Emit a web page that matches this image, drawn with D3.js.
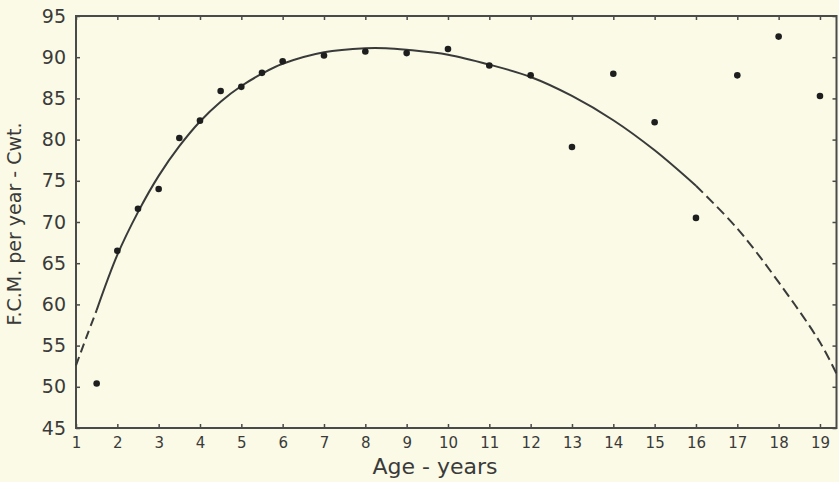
<!DOCTYPE html>
<html>
<head>
<meta charset="utf-8">
<script src="https://cdn.jsdelivr.net/npm/d3@7"></script>
<style>
  body { margin: 0; background: #fafae6; }
  svg { display: block; }
  text { font-family: "DejaVu Sans", sans-serif; fill: #3a3a3a; }
</style>
</head>
<body>
<div id="chart"></div>
<script>
// observed points (age in years, F.C.M. per year in cwt.)
var ages = [1.5, 2, 2.5, 3, 3.5, 4, 4.5, 5, 5.5, 6, 7, 8, 9, 10, 11, 12, 13, 14, 15, 16, 17, 18, 19];
var fcm  = [50.4, 66.5, 71.6, 74.0, 80.2, 82.3, 85.9, 86.4, 88.1, 89.5, 90.2, 90.7, 90.5, 91.0, 89.0, 87.8, 79.1, 88.0, 82.1, 70.5, 87.8, 92.5, 85.3];

// fitted curve
var curveX = [1, 1.25, 1.5, 2, 2.5, 3, 3.5, 4, 4.5, 5, 5.5, 6, 7, 8, 8.5, 9, 10, 11, 12, 13, 14, 15, 16, 17, 18, 19, 19.4];
var curveY = [52.6, 56.0, 59.3, 66.0, 71.2, 75.6, 79.2, 82.2, 84.6, 86.5, 88.0, 89.2, 90.6, 91.1, 91.1, 90.9, 90.3, 89.1, 87.6, 85.3, 82.35, 78.7, 74.4, 69.2, 62.7, 55.4, 51.6];
var solidFrom = 1.5, solidTo = 16;   // outside this range the curve is dashed

var xTicks = d3.range(1, 20);
var yTicks = d3.range(45, 100, 5);

var width = 839, height = 482;
var margin = {top: 16, right: 2.5, bottom: 54, left: 76};

var svg = d3.select("#chart")
  .append("svg")
    .attr("width", width)
    .attr("height", height);

var x = d3.scaleLinear()
    .domain([1, 19.4])
    .range([margin.left, width - margin.right]);

var y = d3.scaleLinear()
    .domain([45, 95])
    .range([height - margin.bottom, margin.top]);

var axisColor = "#4a4a4a";

// axes on all four sides, ticks pointing inwards
svg.append("g")
    .attr("transform", "translate(0," + y(45) + ")")
    .call(d3.axisBottom(x).tickValues(xTicks).tickSizeInner(-4).tickSizeOuter(0).tickPadding(9).tickFormat(d3.format("d")))
    .call(function(g) {
      g.select(".domain").remove();
      g.selectAll("line").attr("stroke", axisColor).attr("stroke-width", 1.5);
      g.selectAll("text").style("font-size", "15px").attr("fill", "#3a3a3a");
    });

svg.append("g")
    .attr("transform", "translate(0," + y(95) + ")")
    .call(d3.axisTop(x).tickValues(xTicks).tickSizeInner(-4).tickSizeOuter(0).tickFormat(""))
    .call(function(g) {
      g.select(".domain").remove();
      g.selectAll("line").attr("stroke", axisColor).attr("stroke-width", 1.5);
    });

svg.append("g")
    .attr("transform", "translate(" + x(1) + ",0)")
    .call(d3.axisLeft(y).tickValues(yTicks).tickSizeInner(-4).tickSizeOuter(0).tickPadding(10))
    .call(function(g) {
      g.select(".domain").remove();
      g.selectAll("line").attr("stroke", axisColor).attr("stroke-width", 1.5);
      g.selectAll("text").style("font-size", "19px").attr("fill", "#3a3a3a");
    });

svg.append("g")
    .attr("transform", "translate(" + x(19.4) + ",0)")
    .call(d3.axisRight(y).tickValues(yTicks).tickSizeInner(-4).tickSizeOuter(0).tickFormat(""))
    .call(function(g) {
      g.select(".domain").remove();
      g.selectAll("line").attr("stroke", axisColor).attr("stroke-width", 1.5);
    });

// frame
svg.append("rect")
    .attr("x", x(1))
    .attr("y", y(95))
    .attr("width", x(19.4) - x(1))
    .attr("height", y(45) - y(95))
    .attr("fill", "none")
    .attr("stroke", axisColor)
    .attr("stroke-width", 2);

// curve
var curvePts = curveX.map(function(d, i) { return [d, curveY[i]]; });
var line = d3.line()
    .x(function(d) { return x(d[0]); })
    .y(function(d) { return y(d[1]); })
    .curve(d3.curveCatmullRom);

var segments = [
  {pts: curvePts.filter(function(d) { return d[0] <= solidFrom; }), dash: "9,5"},
  {pts: curvePts.filter(function(d) { return d[0] >= solidFrom && d[0] <= solidTo; }), dash: null},
  {pts: curvePts.filter(function(d) { return d[0] >= solidTo; }), dash: "10,5"}
];

svg.append("g")
  .selectAll("path")
  .data(segments)
  .enter()
  .append("path")
    .attr("d", function(d) { return line(d.pts); })
    .attr("fill", "none")
    .attr("stroke", "#3a3a3a")
    .attr("stroke-width", 2)
    .attr("stroke-dasharray", function(d) { return d.dash; });

// points
svg.append("g")
  .selectAll("circle")
  .data(ages)
  .enter()
  .append("circle")
    .attr("cx", function(d) { return x(d); })
    .attr("cy", function(d, i) { return y(fcm[i]); })
    .attr("r", 3.3)
    .attr("fill", "#1e1e1e");

// axis titles
svg.append("text")
    .attr("x", 435)
    .attr("y", 474)
    .attr("text-anchor", "middle")
    .style("font-size", "22px")
    .text("Age - years");

svg.append("text")
    .attr("transform", "translate(21,224) rotate(-90)")
    .attr("text-anchor", "middle")
    .style("font-size", "19px")
    .text("F.C.M. per year - Cwt.");
</script>
</body>
</html>
